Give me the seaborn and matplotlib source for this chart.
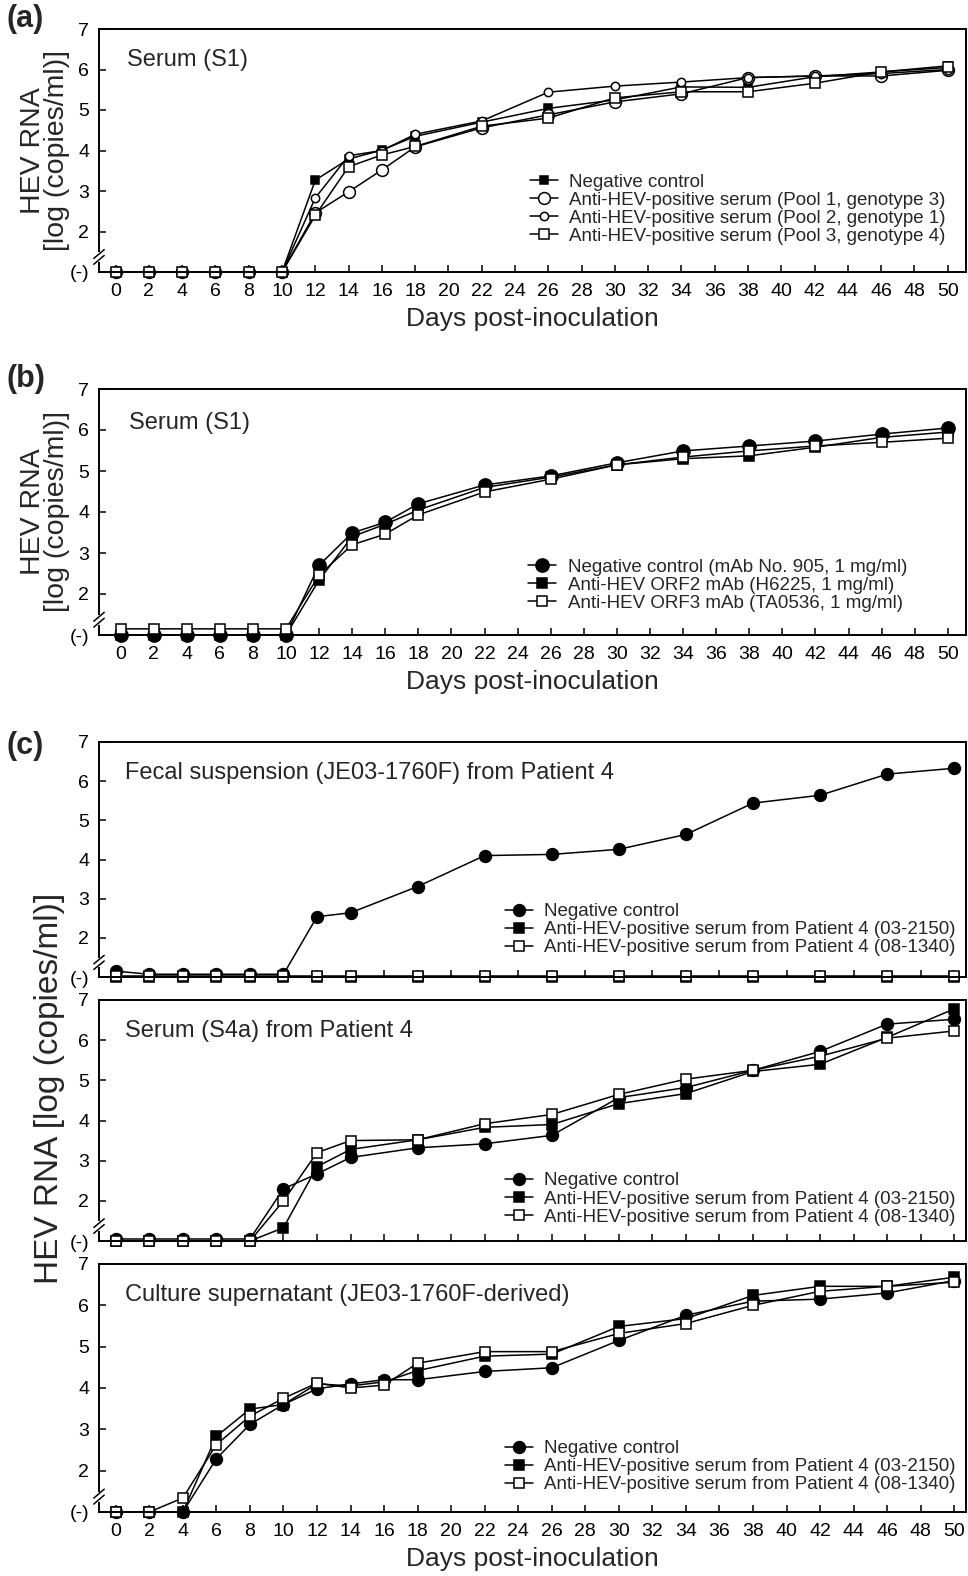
import numpy as np
import pandas as pd
import matplotlib
matplotlib.use("Agg")
import matplotlib.pyplot as plt
import seaborn as sns

# ---- data (values at "(-)" are plotted at 1) ----
# panel (a)
days_a = [0, 2, 4, 6, 8, 10, 12, 14, 16, 18, 22, 26, 30, 34, 38, 42, 46, 50]
a_neg = [1, 1, 1, 1, 1, 1, 3.27, 3.79, 4.01, 4.35, 4.7, 5.04, 5.25, 5.57, 5.56, 5.82, 5.94, 6.09]
a_pool1 = [1, 1, 1, 1, 1, 1, 2.46, 2.98, 3.52, 4.09, 4.56, 4.88, 5.2, 5.4, 5.8, 5.84, 5.84, 5.98]
a_pool2 = [1, 1, 1, 1, 1, 1, 2.83, 3.87, 4.0, 4.4, 4.73, 5.44, 5.59, 5.69, 5.8, 5.84, 5.9, 6.0]
a_pool3 = [1, 1, 1, 1, 1, 1, 2.4, 3.6, 3.89, 4.1, 4.6, 4.8, 5.3, 5.45, 5.45, 5.66, 5.94, 6.05]

# panel (b)
days_b = [0, 2, 4, 6, 8, 10, 12, 14, 16, 18, 22, 26, 30, 34, 38, 42, 46, 50]
b_neg = [1, 1, 1, 1, 1, 1, 2.7, 3.49, 3.75, 4.2, 4.66, 4.88, 5.2, 5.49, 5.61, 5.73, 5.9, 6.05]
b_orf2 = [1, 1, 1, 1, 1, 1, 2.34, 3.4, 3.7, 4.05, 4.6, 4.85, 5.15, 5.3, 5.37, 5.58, 5.82, 5.95]
b_orf3 = [1.15, 1.15, 1.15, 1.15, 1.15, 1.15, 2.46, 3.2, 3.46, 3.93, 4.49, 4.8, 5.15, 5.34, 5.49, 5.61, 5.7, 5.8]

# panel (c) fecal suspension
days_c1 = [0, 2, 4, 6, 8, 10, 12, 14, 18, 22, 26, 30, 34, 38, 42, 46, 50]
c1_neg = [1.15, 1.07, 1.07, 1.07, 1.07, 1.07, 2.54, 2.64, 3.31, 4.1, 4.13, 4.26, 4.64, 5.44, 5.64, 6.18, 6.33]
c1_p03 = [1] * 17
c1_p08 = [1.03] * 17

# panel (c) serum S4a
days_c2 = [0, 2, 4, 6, 8, 10, 12, 14, 18, 22, 26, 30, 34, 38, 42, 46, 50]
c2_neg = [1.05, 1.05, 1.05, 1.05, 1.05, 2.3, 2.67, 3.08, 3.32, 3.42, 3.63, 4.57, 4.82, 5.25, 5.72, 6.4, 6.52]
c2_p03 = [1, 1, 1, 1, 1, 1.33, 2.85, 3.28, 3.52, 3.83, 3.9, 4.42, 4.67, 5.22, 5.4, 6.07, 6.78]
c2_p08 = [1, 1, 1, 1, 1, 2.0, 3.2, 3.5, 3.52, 3.92, 4.15, 4.65, 5.03, 5.25, 5.6, 6.05, 6.23]

# panel (c) culture supernatant
days_c3 = [0, 2, 4, 6, 8, 10, 12, 14, 16, 18, 22, 26, 30, 34, 38, 42, 46, 50]
c3_neg = [1, 1, 1, 2.29, 3.12, 3.6, 3.98, 4.1, 4.2, 4.2, 4.4, 4.49, 5.15, 5.76, 6.1, 6.15, 6.3, 6.6]
c3_p03 = [1, 1, 1, 2.83, 3.49, 3.6, 4.1, 4.05, 4.15, 4.42, 4.77, 4.82, 5.49, 5.68, 6.24, 6.46, 6.46, 6.68]
c3_p08 = [1, 1, 1.34, 2.63, 3.32, 3.75, 4.12, 4.0, 4.07, 4.6, 4.88, 4.88, 5.32, 5.56, 6.0, 6.34, 6.46, 6.56]

labels_a = ["Negative control",
            "Anti-HEV-positive serum (Pool 1, genotype 3)",
            "Anti-HEV-positive serum (Pool 2, genotype 1)",
            "Anti-HEV-positive serum (Pool 3, genotype 4)"]
labels_b = ["Negative control (mAb No. 905, 1 mg/ml)",
            "Anti-HEV ORF2 mAb (H6225, 1 mg/ml)",
            "Anti-HEV ORF3 mAb (TA0536, 1 mg/ml)"]
labels_c = ["Negative control",
            "Anti-HEV-positive serum from Patient 4 (03-2150)",
            "Anti-HEV-positive serum from Patient 4 (08-1340)"]

xticks = list(range(0, 51, 2))
yticks = [1, 2, 3, 4, 5, 6, 7]
ytick_labels = ["(-)", "2", "3", "4", "5", "6", "7"]

sns.set_theme(style="ticks")
plt.rcParams["font.family"] = ["Liberation Sans", "DejaVu Sans"]

fig = plt.figure(figsize=(9.68, 15.76), dpi=100)

L, W = 99 / 968, 867 / 968
def add_axes(top, bottom):
    return fig.add_axes([L, 1 - bottom / 1576, W, (bottom - top) / 1576])

ax_a = add_axes(29, 272)
ax_b = add_axes(389, 635)
ax_c1 = add_axes(742, 977)
ax_c2 = add_axes(1000, 1241)
ax_c3 = add_axes(1264, 1512)


def draw(ax, x, y, label, marker, filled, ms):
    sns.lineplot(x=x, y=y, ax=ax, color="black", linewidth=1.1, marker=marker,
                 markersize=ms, markerfacecolor="black" if filled else "white",
                 markeredgecolor="black", markeredgewidth=1.1, clip_on=False,
                 label=label, sort=False, errorbar=None)


def style(ax, xlim, show_xlabels=True):
    ax.set_xlim(*xlim)
    ax.set_ylim(1, 7)
    ax.set_xticks(xticks)
    ax.set_yticks(yticks)
    ax.set_yticklabels(ytick_labels)
    if not show_xlabels:
        ax.set_xticklabels([])
    ax.tick_params(axis="both", direction="in", length=5, width=1.1, pad=7,
                   labelsize=14, colors="black", top=False, right=False)
    ax.tick_params(axis="x", pad=8)
    for s in ax.spines.values():
        s.set_linewidth(1.4)
        s.set_color("black")
    ax.set_xlabel("")
    ax.set_ylabel("")
    # axis break on the left spine
    yb = 0.062
    ax.plot([0, 0], [yb - 0.012, yb + 0.012], transform=ax.transAxes,
            color="white", linewidth=3, clip_on=False, zorder=5)
    for d in (-0.012, 0.012):
        ax.plot([-0.006, 0.006], [yb + d - 0.018, yb + d + 0.018],
                transform=ax.transAxes, color="black", linewidth=1.1,
                clip_on=False, zorder=6)


def legend(ax, x, y):
    h, l = ax.get_legend_handles_labels()
    ax.legend(h, l, loc="upper left", bbox_to_anchor=(x, y), frameon=False,
              fontsize=13.5, handlelength=1.5, handletextpad=0.6,
              labelspacing=0.05, borderpad=0, borderaxespad=0)


# (a)
draw(ax_a, days_a, a_neg, labels_a[0], "s", True, 6)
draw(ax_a, days_a, a_pool1, labels_a[1], "o", False, 8.5)
draw(ax_a, days_a, a_pool2, labels_a[2], "o", False, 6)
draw(ax_a, days_a, a_pool3, labels_a[3], "s", False, 6.5)
style(ax_a, (-1.0, 51.1))
legend(ax_a, 0.497, 0.405)
ax_a.text(0.032, 0.872, "Serum (S1)", transform=ax_a.transAxes, fontsize=17,
          va="center", ha="left")

# (b)
draw(ax_b, days_b, b_neg, labels_b[0], "o", True, 9.5)
draw(ax_b, days_b, b_orf2, labels_b[1], "s", True, 7)
draw(ax_b, days_b, b_orf3, labels_b[2], "s", False, 7)
style(ax_b, (-1.3, 51.1))
legend(ax_b, 0.495, 0.31)
ax_b.text(0.035, 0.862, "Serum (S1)", transform=ax_b.transAxes, fontsize=17,
          va="center", ha="left")

# (c)
c_sets = [
    (ax_c1, days_c1, c1_neg, c1_p03, c1_p08, "Fecal suspension (JE03-1760F) from Patient 4", 0.868, 0.315),
    (ax_c2, days_c2, c2_neg, c2_p03, c2_p08, "Serum (S4a) from Patient 4", 0.871, 0.285),
    (ax_c3, days_c3, c3_neg, c3_p03, c3_p08, "Culture supernatant (JE03-1760F-derived)", 0.875, 0.29),
]
for i, (ax, d, neg, p03, p08, title, ty, ly) in enumerate(c_sets):
    draw(ax, d, neg, labels_c[0], "o", True, 8.5)
    draw(ax, d, p03, labels_c[1], "s", True, 7)
    draw(ax, d, p08, labels_c[2], "s", False, 7)
    style(ax, (-1.0, 50.7), show_xlabels=(i == 2))
    legend(ax, 0.468, ly)
    ax.text(0.03, ty, title, transform=ax.transAxes, fontsize=17,
            va="center", ha="left")

# axis labels
for ax in (ax_a, ax_b):
    ax.set_ylabel("HEV RNA\n[log (copies/ml)]", fontsize=20.5, linespacing=0.9)
    ax.yaxis.set_label_coords(-0.033, 0.5)
for ax in (ax_a, ax_b, ax_c3):
    ax.set_xlabel("Days post-inoculation", fontsize=19, labelpad=5)

fig.text(50 / 968, 1 - 1088 / 1576, "HEV RNA [log (copies/ml)]", rotation=90,
         ha="center", va="center", fontsize=24)

for lab, top in (("(a)", 4), ("(b)", 364), ("(c)", 731)):
    fig.text(7 / 968, 1 - top / 1576, lab, fontsize=22, fontweight="bold",
             ha="left", va="top")

fig.savefig("out.png", dpi=100, facecolor="white")
